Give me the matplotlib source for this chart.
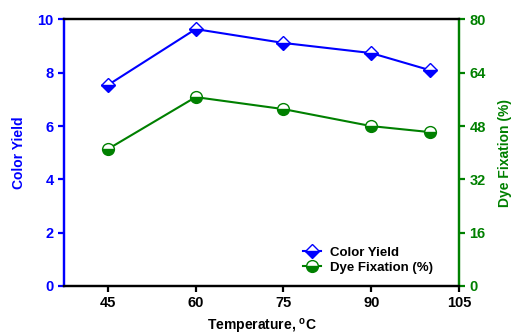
import matplotlib.pyplot as plt

temperature = [45, 60, 75, 90, 100]
color_yield = [7.54, 9.64, 9.12, 8.74, 8.1]
dye_fixation = [41.1, 56.7, 53.1, 48.0, 46.2]

x_ticks = [45, 60, 75, 90, 105]
left_ticks = [0, 2, 4, 6, 8, 10]
right_ticks = [0, 16, 32, 48, 64, 80]

plt.rcParams['font.family'] = ['Liberation Sans', 'DejaVu Sans']
plt.rcParams['font.weight'] = 'bold'

blue = '#0000ff'
green = '#008000'

fig = plt.figure(figsize=(5.13, 3.35), dpi=100)
ax = fig.add_axes([0.1248, 0.1463, 0.7699, 0.7955])
ax2 = ax.twinx()

l1, = ax.plot(temperature, color_yield, color=blue, lw=1.5, marker='D', ms=7.5,
              fillstyle='bottom', markerfacecolor=blue, markerfacecoloralt='white',
              markeredgecolor=blue, markeredgewidth=1.0, label='Color Yield')
l2, = ax2.plot(temperature, dye_fixation, color=green, lw=1.5, marker='o', ms=8.5,
               fillstyle='bottom', markerfacecolor=green, markerfacecoloralt='white',
               markeredgecolor=green, markeredgewidth=1.0, label='Dye Fixation (%)')

ax.set_xlim(37.5, 105)
ax.set_ylim(0, 10)
ax2.set_ylim(0, 80)
ax.set_xticks(x_ticks)
ax.set_yticks(left_ticks)
ax2.set_yticks(right_ticks)

for a in (ax, ax2):
    for s in a.spines.values():
        s.set_linewidth(1.6)
ax.spines['left'].set_color(blue)
ax2.spines['left'].set_color(blue)
ax2.spines['right'].set_color(green)
ax.spines['right'].set_color(green)

ax.tick_params(axis='y', colors=blue, labelsize=10.5, width=1.6, length=4, direction='out')
ax.tick_params(axis='x', colors='black', labelsize=10.5, width=1.6, length=4, direction='out')
ax2.tick_params(axis='y', colors=green, labelsize=10.5, width=1.6, length=4, direction='out')
for lab in ax.get_xticklabels() + ax.get_yticklabels() + ax2.get_yticklabels():
    lab.set_fontweight('bold')

ax.set_ylabel('Color Yield', color=blue, fontsize=10, fontweight='bold', labelpad=8)
ax2.set_ylabel('Dye Fixation (%)', color=green, fontsize=10, fontweight='bold', labelpad=9)
ax.set_xlabel('Temperature, $\\mathregular{^{o}}$C', fontsize=10, fontweight='bold', labelpad=5)

leg = ax.legend([l1, l2], ['Color Yield', 'Dye Fixation (%)'], loc='lower right',
                bbox_to_anchor=(0.965, 0.0), frameon=False, fontsize=9.5,
                handlelength=1.4, handletextpad=0.7, labelspacing=0.25)
for t in leg.get_texts():
    t.set_fontweight('bold')

fig.savefig('out.png', dpi=100)
